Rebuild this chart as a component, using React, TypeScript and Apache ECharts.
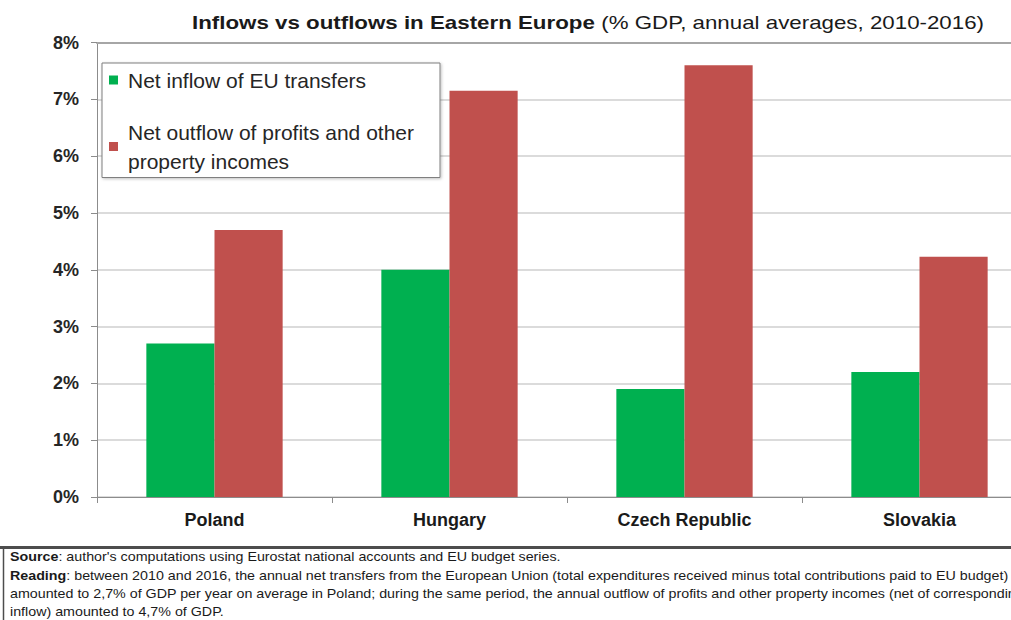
import React, { useEffect, useRef } from "react";
import * as echarts from "echarts";

const categories = ["Poland", "Hungary", "Czech Republic", "Slovakia"];
const euTransfers = [2.7, 4.0, 1.9, 2.2];
const profitOutflows = [4.7, 7.15, 7.6, 4.23];
const seriesNames = ["Net inflow of EU transfers", "Net outflow of profits and other property incomes"];
const yTicks = { min: 0, max: 8, interval: 1 };

const titleBold = "Inflows vs outflows in Eastern Europe";
const titleRest = " (% GDP, annual averages, 2010-2016)";
const noteLines = [
  ["Source", ": author's computations using Eurostat national accounts and EU budget series."],
  ["Reading", ": between 2010 and 2016, the annual net transfers from the European Union (total expenditures received minus total contributions paid to EU budget)"],
  ["", "amounted to 2,7% of GDP per year on average in Poland; during the same period, the annual outflow of profits and other property incomes (net of corresponding"],
  ["", "inflow) amounted to 4,7% of GDP."],
];

const FONT = "Liberation Sans, Arial, Helvetica, sans-serif";

export default function App() {
  const ref = useRef<HTMLDivElement>(null);
  useEffect(() => {
    if (!ref.current) return;
    const chart = echarts.init(ref.current, undefined, { renderer: "svg" });
    const noteText = noteLines
      .map(([b, r]) => (b ? `{b|${b}}{r|${r}}` : `{r|${r}}`))
      .join("\n");
    chart.setOption({
      animation: false,
      backgroundColor: "#ffffff",
      textStyle: { fontFamily: FONT },
      grid: {
        left: 97,
        top: 42.5,
        width: 940,
        height: 454.5,
        containLabel: false,
        outerBoundsMode: "none",
      },
      legend: {
        orient: "vertical",
        left: 102,
        top: 63,
        padding: [2.5, 26, 6, 7],
        itemGap: 27,
        itemWidth: 9,
        itemHeight: 9,
        icon: "rect",
        backgroundColor: "#ffffff",
        borderColor: "#7f7f7f",
        borderWidth: 1,
        shadowColor: "rgba(0,0,0,0.25)",
        shadowBlur: 3,
        shadowOffsetX: 1,
        shadowOffsetY: 1,
        formatter: (name: string) =>
          name === seriesNames[1] ? "Net outflow of profits and other\nproperty incomes" : name,
        data: [
          { name: seriesNames[0], textStyle: { padding: [0, 0, 0, 5] } },
          { name: seriesNames[1], textStyle: { padding: [0, 0, -29, 5] } },
        ],
        textStyle: { fontSize: 21, lineHeight: 29, color: "#262626", fontFamily: FONT },
      },
      xAxis: [
        {
          type: "category",
          data: categories,
          axisLine: { show: true, lineStyle: { color: "#8c8c8c", width: 1 } },
          axisTick: { show: true, length: 6, lineStyle: { color: "#8c8c8c" } },
          axisLabel: { fontSize: 18, fontWeight: "bold", color: "#1a1a1a", margin: 14, fontFamily: FONT },
        },
        {
          type: "category",
          data: categories,
          position: "top",
          axisLine: { show: true, lineStyle: { color: "#a6a6a6", width: 2 } },
          axisTick: { show: false },
          axisLabel: { show: false },
        },
      ],
      yAxis: {
        type: "value",
        min: yTicks.min,
        max: yTicks.max,
        interval: yTicks.interval,
        axisLine: { show: true, lineStyle: { color: "#8c8c8c", width: 1 } },
        axisTick: { show: true, length: 6, lineStyle: { color: "#8c8c8c" } },
        axisLabel: {
          formatter: "{value}%",
          fontSize: 18,
          fontWeight: "bold",
          color: "#262626",
          margin: 18,
          fontFamily: FONT,
        },
        splitLine: { show: true, lineStyle: { color: "#cfcfcf", width: 1.5 } },
      },
      series: [
        {
          name: seriesNames[0],
          type: "bar",
          data: euTransfers,
          itemStyle: { color: "#00B050" },
          barGap: "0%",
          barCategoryGap: "42%",
        },
        {
          name: seriesNames[1],
          type: "bar",
          data: profitOutflows,
          itemStyle: { color: "#C0504D" },
          barGap: "0%",
          barCategoryGap: "42%",
        },
      ],
      graphic: [
        {
          type: "text",
          x: 588,
          y: 22.5,
          scaleX: 1.24,
          style: {
            text: `{b|${titleBold}}{r|${titleRest}}`,
            align: "center",
            verticalAlign: "middle",
            rich: {
              b: { fontSize: 18, fontWeight: "bold", fill: "#1a1a1a", fontFamily: FONT },
              r: { fontSize: 18, fill: "#1a1a1a", fontFamily: FONT },
            },
          },
        },
        {
          type: "line",
          shape: { x1: 0, y1: 547.5, x2: 1011, y2: 547.5 },
          style: { stroke: "#4d4d4d", lineWidth: 3 },
        },
        {
          type: "line",
          shape: { x1: 3.5, y1: 547.5, x2: 3.5, y2: 620 },
          style: { stroke: "#4d4d4d", lineWidth: 1.5 },
        },
        {
          type: "text",
          x: 10,
          y: 548,
          scaleX: 1.19,
          style: {
            text: noteText,
            align: "left",
            verticalAlign: "top",
            lineHeight: 18.3,
            rich: {
              b: { fontSize: 12, fontWeight: "bold", fill: "#1a1a1a", fontFamily: FONT, lineHeight: 18.3 },
              r: { fontSize: 12, fill: "#1a1a1a", fontFamily: FONT, lineHeight: 18.3 },
            },
          },
        },
      ],
    });
    return () => chart.dispose();
  }, []);
  return (
    <div
      ref={ref}
      style={{ position: "absolute", left: 0, top: 0, width: 1011, height: 620 }}
    />
  );
}
